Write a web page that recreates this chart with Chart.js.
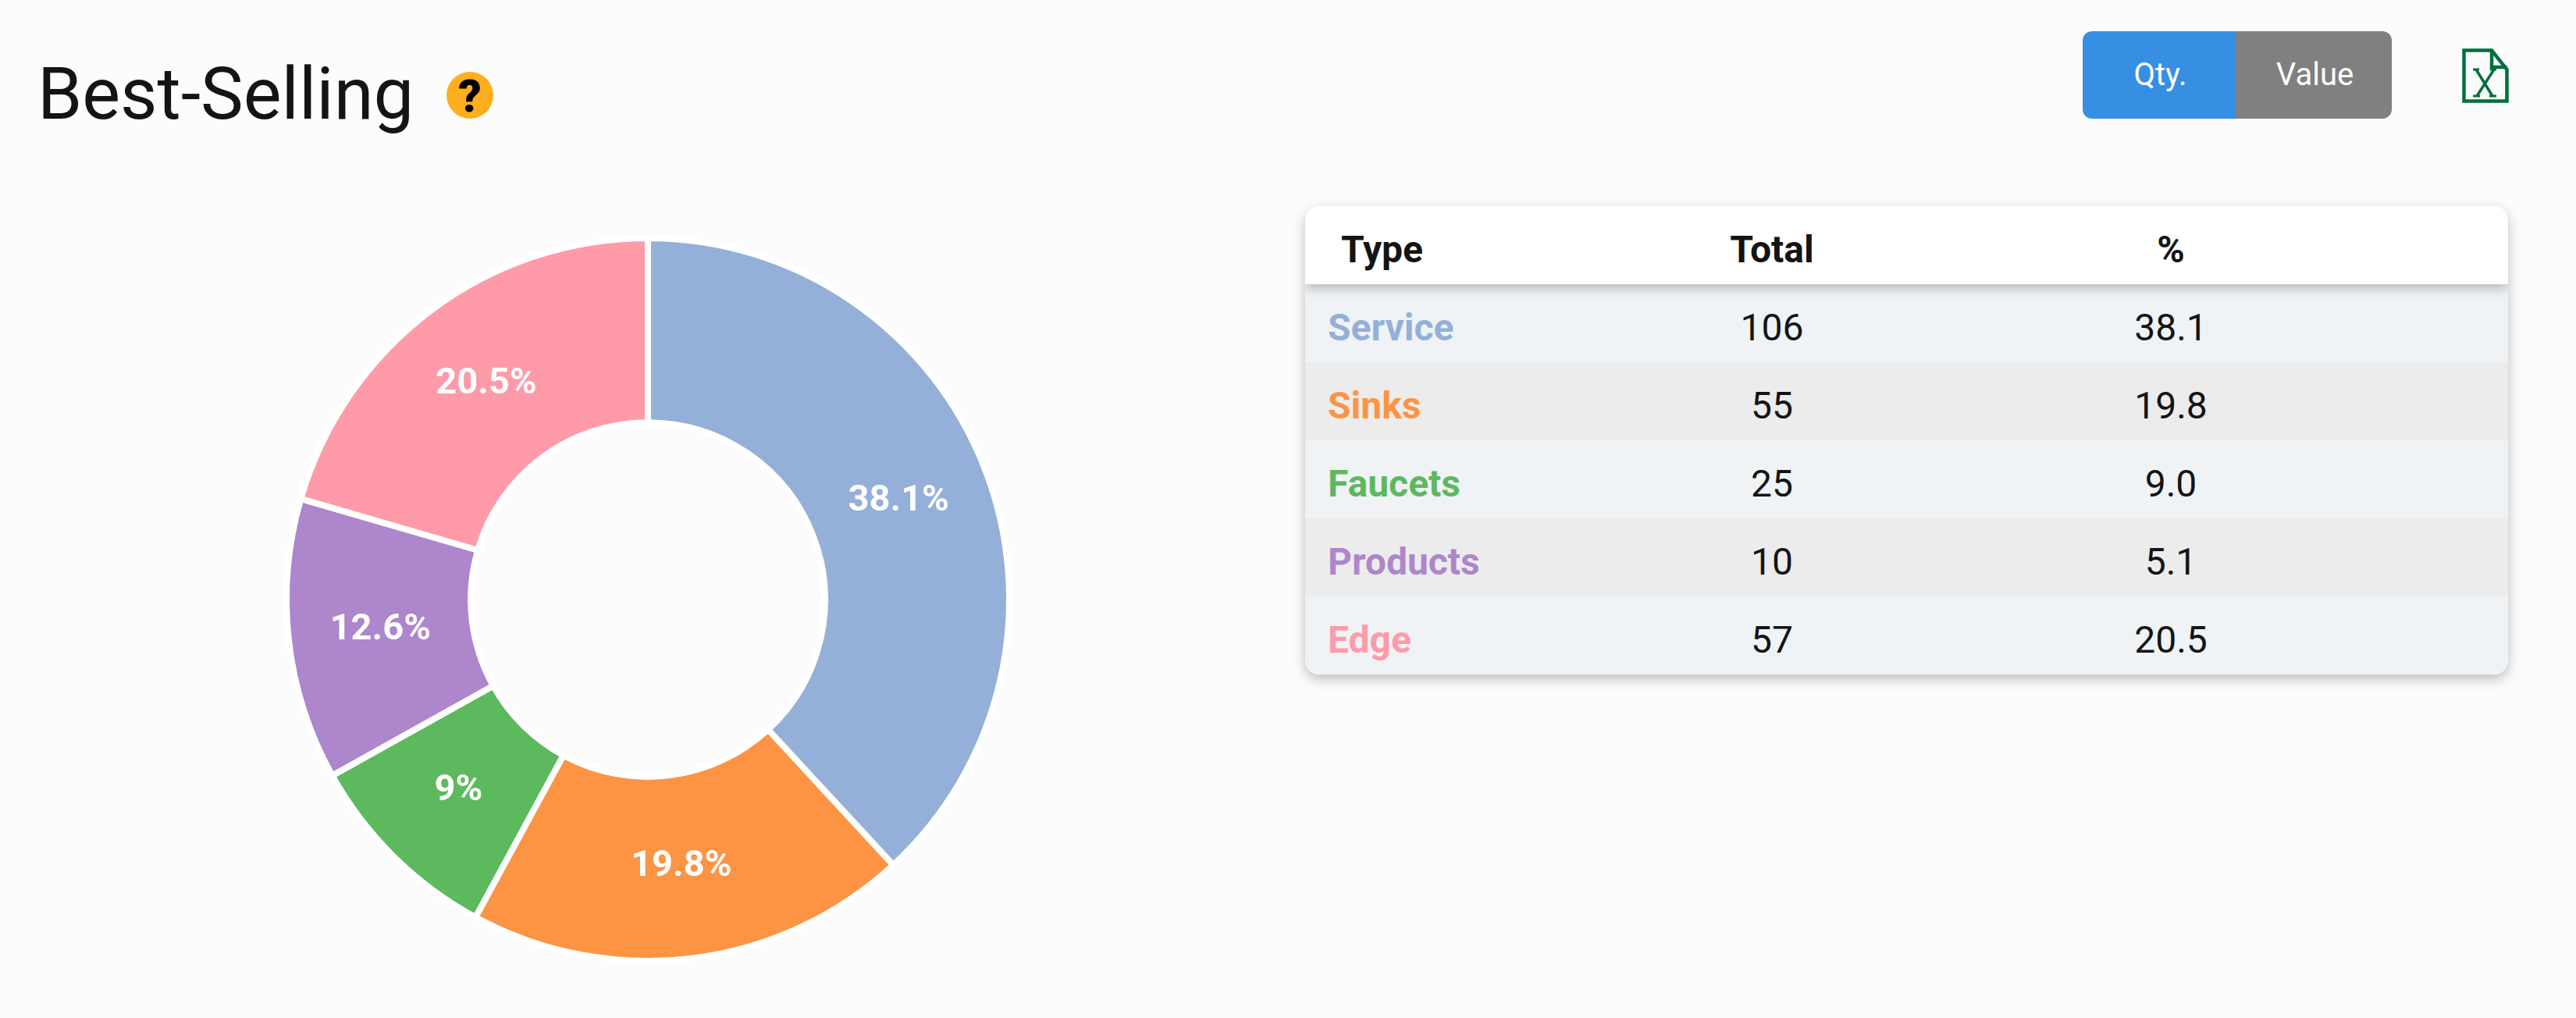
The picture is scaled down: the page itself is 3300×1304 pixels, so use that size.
<!DOCTYPE html>
<html>
<head>
<meta charset="utf-8">
<title>Best-Selling</title>
<script src="https://cdn.jsdelivr.net/npm/chart.js@4"></script>
<style>
html, body { margin: 0; padding: 0; background: #fcfcfc; }
body { position: relative; width: 3300px; height: 1304px; overflow: hidden; font-family: Roboto, sans-serif; color: #141414; }
#title { position: absolute; left: 48px; top: 67px; font-size: 92px; line-height: 108px; font-weight: 400; margin: 0; }
#help { position: absolute; left: 572px; top: 92px; width: 60px; height: 60px; border-radius: 50%; background: #ffae1f; color: #000; font-weight: 900; font-size: 58px; line-height: 62px; text-align: center; }
#toggle { position: absolute; left: 2668px; top: 40px; width: 396px; height: 112px; border-radius: 12px; overflow: hidden; display: flex; color: #fff; font-size: 40px; line-height: 112px; text-align: center; }
#toggle div:first-child { width: 193px; padding-left: 3px; background: #368fe3; }
#toggle div:last-child { width: 197px; padding-left: 3px; background: #808080; }
#excel { position: absolute; left: 3154px; top: 62px; }
#donut { position: absolute; left: 330px; top: 268px; }
#card { position: absolute; left: 1672px; top: 264px; width: 1541px; border-radius: 18px; overflow: hidden; box-shadow: 0 6px 16px rgba(0,0,0,0.25); font-size: 48px; }
.row { display: grid; grid-template-columns: 340px 516px 506px 179px; height: 100px; line-height: 112px; text-align: center; position: relative; }
.row:nth-child(even) { background: #eff3f6; }
.row:nth-child(odd) { background: #ececec; }
.row.head { background: #fff; font-weight: 700; z-index: 1; box-shadow: 0 5px 14px rgba(0,0,0,0.26); }
.row.head div:first-child { text-align: left; padding-left: 46px; }
.row .name { text-align: left; padding-left: 29px; font-weight: 700; }
</style>
</head>
<body>
<h1 id="title">Best-Selling</h1>
<div id="help">?</div>
<div id="toggle"><div>Qty.</div><div>Value</div></div>
<svg id="excel" width="60" height="70" viewBox="0 0 60 70" fill="none" stroke="#00703c" stroke-width="4.5">
  <path d="M2.5 2.5H38L57.5 27V67.5H2.5Z"/>
  <path d="M38 2.5V24H57.5"/>
  <path d="M18 27L39 61M41 27L19 61" stroke-width="3.5"/>
  <path d="M14 27H22M36 27H44M14 61H23M35 61H44" stroke-width="3"/>
</svg>
<canvas id="donut" width="1000" height="1000"></canvas>
<div id="card"></div>
<script>
const categories = ['Service', 'Sinks', 'Faucets', 'Products', 'Edge'];
const chartValues = [106, 55, 25, 35, 57];
const sliceLabels = ['38.1%', '19.8%', '9%', '12.6%', '20.5%'];
const colors = ['#94b0d8', '#fc9444', '#5db95e', '#ae86cc', '#ff9aa8'];
const headers = ['Type', 'Total', '%'];
const totals = [106, 55, 25, 10, 57];
const percents = ['38.1', '19.8', '9.0', '5.1', '20.5'];

// Таблица справа
const card = document.getElementById('card');
function addRow(cells, cls, color) {
    let row = document.createElement('div');
    row.className = cls;
    cells.forEach((text, i) => {
        let cell = document.createElement('div');
        cell.textContent = text;
        if (i === 0 && color) {
            cell.className = 'name';
            cell.style.color = color;
        }
        row.appendChild(cell);
    });
    card.appendChild(row);
}
addRow(headers, 'row head');
categories.forEach((name, i) => {
    addRow([name, totals[i], percents[i]], 'row', colors[i]);
});

// Подписи на секторах
const sliceLabelPlugin = {
    id: 'sliceLabels',
    afterDatasetsDraw(chart) {
        const ctx = chart.ctx;
        ctx.save();
        ctx.font = '700 47px Roboto';
        ctx.fillStyle = '#fff';
        ctx.textAlign = 'center';
        ctx.textBaseline = 'middle';
        chart.getDatasetMeta(0).data.forEach((arc, i) => {
            const pos = arc.tooltipPosition();
            ctx.fillText(sliceLabels[i], pos.x, pos.y);
        });
        ctx.restore();
    }
};

const ctx = document.getElementById('donut').getContext('2d');
const chart = new Chart(ctx, {
    type: 'doughnut',
    data: {
        labels: categories,
        datasets: [{
            data: chartValues,
            backgroundColor: colors,
            borderColor: '#fff',
            borderWidth: 8,
        }],
    },
    options: {
        responsive: false,
        animation: false,
        cutout: '49%',
        layout: { padding: 33 },
        plugins: {
            legend: { display: false },
            tooltip: { enabled: false },
        },
    },
    plugins: [sliceLabelPlugin],
});
</script>
</body>
</html>
